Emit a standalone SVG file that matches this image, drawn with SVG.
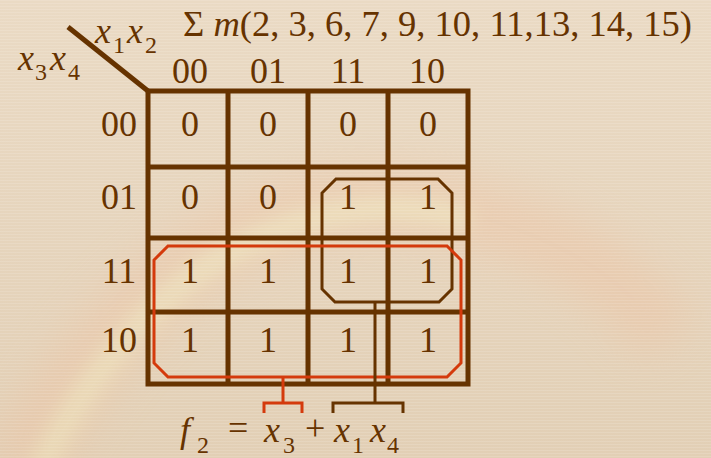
<svg xmlns="http://www.w3.org/2000/svg" width="711" height="458" viewBox="0 0 711 458">
<defs>
<linearGradient id="bg" x1="0" y1="0" x2="0" y2="1">
<stop offset="0" stop-color="#EADAC4"/>
<stop offset="1" stop-color="#E2CFB5"/>
</linearGradient>
<pattern id="stripes" width="4" height="3" patternUnits="userSpaceOnUse">
<rect width="4" height="1" fill="#FFFFFF" opacity="0.12"/>
</pattern>
<filter id="blur" x="-50%" y="-50%" width="200%" height="200%"><feGaussianBlur stdDeviation="20"/></filter>
<filter id="blur2" x="-50%" y="-50%" width="200%" height="200%"><feGaussianBlur stdDeviation="9"/></filter>
<style>
.t{font-family:"Liberation Serif","Times New Roman",serif;fill:#663300;font-size:36px}
.s{font-size:24px;font-style:normal}
.c{text-anchor:middle}
.i{font-style:italic}
.grid{stroke:#663300;stroke-width:5;fill:none}
.loopB{stroke:#663300;stroke-width:3;fill:none}
.loopR{stroke:#D43A0C;stroke-width:3;fill:none}
</style>
</defs>
<rect width="711" height="458" fill="url(#bg)"/>
<g opacity="0.35">
<path d="M20,470 C80,360 150,280 230,240 C320,190 420,190 520,230 C600,260 640,300 670,340" stroke="#EFBE9C" stroke-width="70" fill="none" filter="url(#blur)"/>
<path d="M40,470 C90,370 160,290 235,250 C320,205 400,200 470,220" stroke="#F8EBB8" stroke-width="26" fill="none" filter="url(#blur2)"/>
</g>
<rect width="711" height="458" fill="url(#stripes)"/>

<g id="title"><text class="t" x="183" y="36" textLength="509" lengthAdjust="spacingAndGlyphs">Σ <tspan class="i">m</tspan>(2, 3, 6, 7, 9, 10, 11,13, 14, 15)</text></g>

<g id="corner">
<line x1="68" y1="27" x2="148" y2="91" stroke="#663300" stroke-width="5"/>
<text class="t i" x="95" y="43">x</text><text class="t s" x="113" y="53">1</text>
<text class="t i" x="127" y="43">x</text><text class="t s" x="145" y="53">2</text>
<text class="t i" x="18" y="70">x</text><text class="t s" x="35" y="80">3</text>
<text class="t i" x="50" y="70">x</text><text class="t s" x="68" y="80">4</text>
</g>

<g id="colHeaders">
<text class="t c" x="190" y="83">00</text>
<text class="t c" x="268" y="83">01</text>
<text class="t c" x="348" y="83">11</text>
<text class="t c" x="427" y="83">10</text>
</g>
<g id="rowHeaders">
<text class="t c" x="119" y="136">00</text>
<text class="t c" x="119" y="209">01</text>
<text class="t c" x="119" y="283">11</text>
<text class="t c" x="119" y="352">10</text>
</g>

<g id="grid">
<rect class="grid" x="148" y="91" width="320" height="293"/>
<line class="grid" x1="228" y1="91" x2="228" y2="384"/>
<line class="grid" x1="308" y1="91" x2="308" y2="384"/>
<line class="grid" x1="388" y1="91" x2="388" y2="384"/>
<line class="grid" x1="148" y1="167" x2="468" y2="167"/>
<line class="grid" x1="148" y1="238" x2="468" y2="238"/>
<line class="grid" x1="148" y1="312" x2="468" y2="312"/>
</g>

<g id="cells">
<text class="t c" x="190" y="136">0</text>
<text class="t c" x="268" y="136">0</text>
<text class="t c" x="348" y="136">0</text>
<text class="t c" x="428" y="136">0</text>
<text class="t c" x="190" y="209">0</text>
<text class="t c" x="268" y="209">0</text>
<text class="t c" x="348" y="209">1</text>
<text class="t c" x="428" y="209">1</text>
<text class="t c" x="190" y="283">1</text>
<text class="t c" x="268" y="283">1</text>
<text class="t c" x="348" y="283">1</text>
<text class="t c" x="428" y="283">1</text>
<text class="t c" x="190" y="352">1</text>
<text class="t c" x="268" y="352">1</text>
<text class="t c" x="348" y="352">1</text>
<text class="t c" x="428" y="352">1</text>
</g>

<g id="loops">
<path class="loopB" d="M336,179 L438,179 L452,193 L452,289 L439,302 L335,302 L322,289 L322,193 Z"/>
<path class="loopR" d="M168,246 L447,246 L461,260 L461,363 L447,377 L168,377 L154,363 L154,260 Z"/>
</g>

<g id="connectors">
<path class="loopB" d="M375,302 V403 M333,413 V403 H403 V413"/>
<path class="loopR" d="M283,377 V403 M264,413 V403 H302 V413"/>
</g>

<g id="equation">
<text class="t i" x="180" y="442">f</text><text class="t s" x="197" y="453">2</text>
<text class="t" x="228" y="440">=</text>
<text class="t i" x="264" y="442">x</text><text class="t s" x="283" y="453">3</text>
<text class="t" x="305" y="440">+</text>
<text class="t i" x="334" y="442">x</text><text class="t s" x="352" y="453">1</text>
<text class="t i" x="370" y="442">x</text><text class="t s" x="387" y="453">4</text>
</g>
</svg>
